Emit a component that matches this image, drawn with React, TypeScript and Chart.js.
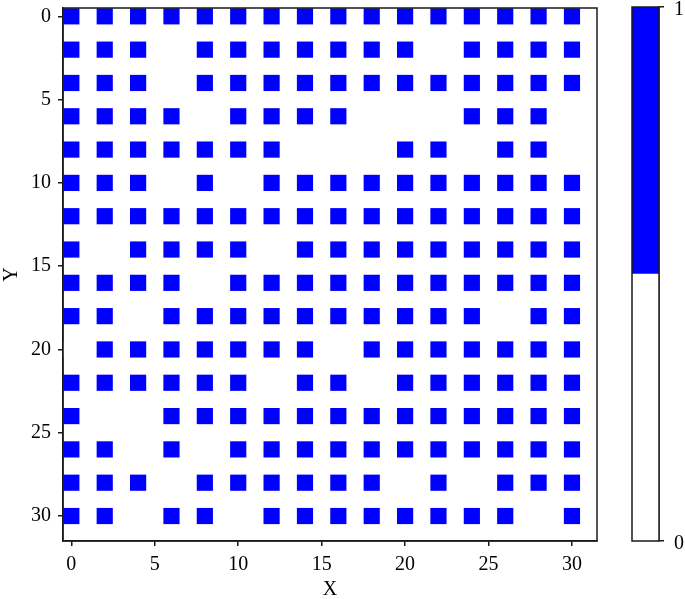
import React, { useEffect, useRef } from 'react';
import { Chart, registerables } from 'chart.js';
Chart.register(...registerables);

const xCoords = [0, 2, 4, 6, 8, 10, 12, 14, 16, 18, 20, 22, 24, 26, 28, 30];
const yCoords = [0, 2, 4, 6, 8, 10, 12, 14, 16, 18, 20, 22, 24, 26, 28, 30];
// one row per y value, one entry per x value
const cellRows = [
  [1, 1, 1, 1, 1, 1, 1, 1, 1, 1, 1, 1, 1, 1, 1, 1],
  [1, 1, 1, 0, 1, 1, 1, 1, 1, 1, 1, 0, 1, 1, 1, 1],
  [1, 1, 1, 0, 1, 1, 1, 1, 1, 1, 1, 1, 1, 1, 1, 1],
  [1, 1, 1, 1, 0, 1, 1, 1, 1, 0, 0, 0, 1, 1, 1, 0],
  [1, 1, 1, 1, 1, 1, 1, 0, 0, 0, 1, 1, 0, 1, 1, 0],
  [1, 1, 1, 0, 1, 0, 1, 1, 1, 1, 1, 1, 1, 1, 1, 1],
  [1, 1, 1, 1, 1, 1, 1, 1, 1, 1, 1, 1, 1, 1, 1, 1],
  [1, 0, 1, 1, 1, 1, 0, 1, 1, 1, 1, 1, 1, 1, 1, 1],
  [1, 1, 1, 1, 0, 1, 1, 1, 1, 1, 1, 1, 1, 1, 1, 1],
  [1, 1, 0, 1, 1, 1, 1, 1, 1, 1, 1, 1, 1, 0, 1, 1],
  [0, 1, 1, 1, 1, 1, 1, 1, 0, 1, 1, 1, 1, 1, 1, 1],
  [1, 1, 1, 1, 1, 1, 0, 1, 1, 0, 1, 1, 1, 1, 1, 1],
  [1, 0, 0, 1, 1, 1, 1, 1, 1, 1, 1, 1, 1, 1, 1, 1],
  [1, 1, 0, 1, 0, 1, 1, 1, 1, 1, 1, 1, 1, 1, 1, 1],
  [1, 1, 1, 0, 1, 1, 1, 1, 1, 1, 0, 1, 0, 1, 1, 1],
  [1, 1, 0, 1, 1, 0, 1, 1, 1, 1, 1, 1, 1, 1, 0, 1],
];
const axisTicks = [0, 5, 10, 15, 20, 25, 30];
const colorbarTicks = [0, 1];
const colorLevels: [number, number][] = [[0, 0.5], [0.5, 1]];
const levelColors = ['#ffffff', '#0000ff'];

const FONT = "'Liberation Serif', 'Times New Roman', serif";
const FONT_SIZE = 20;
const AXIS_COLOR = '#1a1a1a';

const boxPlugin = {
  id: 'box',
  afterDraw(chart: any) {
    const { ctx, chartArea: a } = chart;
    ctx.save();
    ctx.strokeStyle = AXIS_COLOR;
    ctx.lineWidth = 1.5;
    ctx.strokeRect(a.left, a.top, a.right - a.left, a.bottom - a.top);
    ctx.restore();
  },
};

const noPad = (s: any) => {
  s.paddingTop = 0;
  s.paddingBottom = 0;
  s.paddingLeft = 0;
  s.paddingRight = 0;
};

export default function App() {
  const mainRef = useRef<HTMLCanvasElement>(null);
  const cbRef = useRef<HTMLCanvasElement>(null);

  useEffect(() => {
    const points: { x: number; y: number; v: number }[] = [];
    cellRows.forEach((row, ri) =>
      row.forEach((v, ci) => points.push({ x: xCoords[ci], y: yCoords[ri], v }))
    );

    const halfSide = (ctx: any) => {
      const s = ctx.chart.scales.x;
      if (!s) return 8;
      const side = Math.abs(s.getPixelForValue(1) - s.getPixelForValue(0)) * 0.97;
      return side / 2 / Math.SQRT1_2;
    };

    const main = new Chart(mainRef.current!, {
      type: 'scatter',
      data: {
        datasets: [
          {
            data: points as any,
            pointStyle: 'rect',
            pointRadius: halfSide,
            pointHoverRadius: halfSide,
            backgroundColor: (c: any) => levelColors[(c.raw && c.raw.v) ? 1 : 0],
            borderWidth: 0,
          },
        ],
      },
      options: {
        responsive: false,
        animation: false,
        devicePixelRatio: 1,
        events: [],
        layout: { padding: { top: 8, right: 3, left: 0, bottom: 0 } },
        plugins: { legend: { display: false }, tooltip: { enabled: false } },
        scales: {
          x: {
            type: 'linear',
            min: -0.5,
            max: 31.5,
            afterBuildTicks: (s: any) => { s.ticks = axisTicks.map((v) => ({ value: v })); },
            afterFit: (s: any) => { s.height = 58; noPad(s); },
            ticks: { color: '#000', font: { family: FONT, size: FONT_SIZE }, padding: 7, maxRotation: 0 },
            grid: { drawOnChartArea: false, drawTicks: true, tickLength: 5, color: AXIS_COLOR, lineWidth: 1.5 },
            border: { display: true, color: AXIS_COLOR, width: 1.5 },
            title: { display: true, text: 'X', color: '#000', font: { family: FONT, size: FONT_SIZE }, padding: { top: 0, bottom: -3 } },
          },
          y: {
            type: 'linear',
            reverse: true,
            min: -0.5,
            max: 31.5,
            afterBuildTicks: (s: any) => { s.ticks = axisTicks.map((v) => ({ value: v })); },
            afterFit: (s: any) => { s.width = 63; noPad(s); },
            ticks: { color: '#000', font: { family: FONT, size: FONT_SIZE }, padding: 7 },
            grid: { drawOnChartArea: false, drawTicks: true, tickLength: 5, color: AXIS_COLOR, lineWidth: 1.5 },
            border: { display: true, color: AXIS_COLOR, width: 1.5 },
            title: { display: true, text: 'Y', color: '#000', font: { family: FONT, size: FONT_SIZE }, padding: 0 },
          },
        },
      },
      plugins: [boxPlugin],
    } as any);

    const cb = new Chart(cbRef.current!, {
      type: 'bar',
      data: {
        labels: ['level'],
        datasets: colorLevels.map((r, i) => ({
          data: [r],
          backgroundColor: levelColors[i],
          borderWidth: 0,
          barPercentage: 1,
          categoryPercentage: 1,
          grouped: false,
        })),
      },
      options: {
        responsive: false,
        animation: false,
        devicePixelRatio: 1,
        events: [],
        layout: { padding: { top: 7, right: 0, left: 32, bottom: 58 } },
        plugins: { legend: { display: false }, tooltip: { enabled: false } },
        scales: {
          x: { type: 'category', display: false },
          y: {
            type: 'linear',
            position: 'right',
            min: 0,
            max: 1,
            afterBuildTicks: (s: any) => { s.ticks = colorbarTicks.map((v) => ({ value: v })); },
            afterFit: (s: any) => { s.width = 26; noPad(s); },
            ticks: { color: '#000', font: { family: FONT, size: FONT_SIZE }, padding: 10, labelOffset: 3 },
            grid: { drawOnChartArea: false, drawTicks: true, tickLength: 5, color: AXIS_COLOR, lineWidth: 1.5 },
            border: { display: true, color: AXIS_COLOR, width: 1.5 },
          },
        },
      },
      plugins: [boxPlugin],
    } as any);

    return () => {
      main.destroy();
      cb.destroy();
    };
  }, []);

  return (
    <div style={{ position: 'fixed', left: 0, top: 0, width: 685, height: 599, background: '#fff' }}>
      <canvas ref={mainRef} width={600} height={599} style={{ position: 'absolute', left: 0, top: 0, display: 'block' }} />
      <canvas ref={cbRef} width={85} height={599} style={{ position: 'absolute', left: 600, top: 0, display: 'block' }} />
    </div>
  );
}
